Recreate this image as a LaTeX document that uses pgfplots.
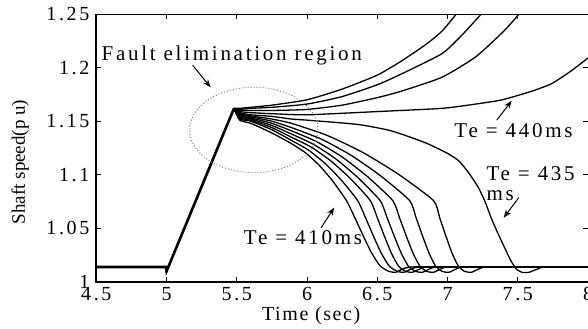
\documentclass[border=0pt]{standalone}
\usepackage{fontspec}
\setmainfont{Liberation Serif}[LetterSpace=13]
\newfontfamily\ylabfont{Liberation Serif}
\newfontfamily\xlabfont{Liberation Serif}[LetterSpace=8]
\usepackage{pgfplots}
\pgfplotsset{compat=1.18}
\usetikzlibrary{arrows.meta}
\begin{document}
\begin{tikzpicture}[curve/.style={black, solid, line width=0.65pt, smooth, tension=0.35, mark=none}]
\begin{axis}[
  width=245bp, height=133.5bp, scale only axis,
  xmin=4.5, xmax=8, ymin=1, ymax=1.25,
  xtick={4.5,5,5.5,6,6.5,7,7.5,8},
  ytick={1,1.05,1.1,1.15,1.2,1.25},
  xticklabels={4.5,5,5.5,6,6.5,7,7.5,8},
  yticklabels={1,1.05,1.1,1.15,1.2,1.25},
  tick align=inside, major tick length=2.5pt,
  tick style={black, line width=0.5pt},
  axis line style={line width=0.5pt},
  /pgf/number format/assume math mode=true,
  tick label style={font=\fontsize{10}{12}\selectfont},
  xticklabel style={yshift=1pt},
  xlabel={\xlabfont Time (sec)},
  xlabel style={at={(axis description cs:0.437,-0.125)}, anchor=center, font=\fontsize{10}{12}\selectfont},
  ylabel={\ylabfont Shaft speed(p u)},
  ylabel style={at={(axis description cs:-0.155,0.448)}, anchor=center, font=\fontsize{9.5}{11}\selectfont},
  after end axis/.code={\draw[line width=1.1pt] (rel axis cs:0,1) -- (rel axis cs:0,0) -- (rel axis cs:1,0);},
]
% pre-fault and ramp
\addplot[black, solid, mark=none, sharp plot, line width=1.3pt] coordinates {(4.5,1.014)(4.995,1.014)(5.0,1.010)(5.48,1.162)};
% fast recovering curves
\addplot[curve] coordinates {(5.48,1.162)(5.52,1.151)(5.6,1.148)(5.75,1.139)(5.89,1.129)(5.9875,1.1207)(6.085,1.1091)(6.1825,1.0942)(6.28,1.076)(6.34,1.060)(6.40,1.043)(6.46,1.027)(6.52,1.015)(6.58,1.010)(6.63,1.009)(6.68,1.012)(6.74,1.014)(7.0,1.014)(8,1.014)};
\addplot[curve] coordinates {(5.48,1.162)(5.52,1.152)(5.6,1.150)(5.75,1.142)(5.89,1.132)(6.0075,1.1233)(6.125,1.111)(6.2425,1.0953)(6.36,1.076)(6.416,1.060)(6.472,1.043)(6.528,1.027)(6.584,1.015)(6.64,1.010)(6.69,1.009)(6.74,1.012)(6.80,1.014)(7.1,1.014)(8,1.014)};
\addplot[curve] coordinates {(5.48,1.162)(5.52,1.153)(5.6,1.151)(5.75,1.144)(5.89,1.135)(6.03,1.1258)(6.17,1.1129)(6.31,1.0963)(6.45,1.076)(6.50,1.060)(6.55,1.043)(6.60,1.027)(6.65,1.015)(6.70,1.010)(6.75,1.009)(6.80,1.012)(6.86,1.014)(7.2,1.014)(8,1.014)};
\addplot[curve] coordinates {(5.48,1.162)(5.52,1.154)(5.6,1.152)(5.75,1.146)(5.89,1.138)(6.0475,1.1283)(6.205,1.1148)(6.3625,1.0973)(6.52,1.076)(6.57,1.060)(6.62,1.043)(6.67,1.027)(6.72,1.015)(6.77,1.010)(6.82,1.009)(6.87,1.012)(6.93,1.014)(7.3,1.014)(8,1.014)};
\addplot[curve] coordinates {(5.48,1.162)(5.52,1.155)(5.6,1.153)(5.75,1.148)(5.89,1.141)(6.07,1.1308)(6.25,1.1166)(6.43,1.0983)(6.61,1.076)(6.658,1.060)(6.706,1.043)(6.754,1.027)(6.802,1.015)(6.85,1.010)(6.90,1.009)(6.95,1.012)(7.01,1.014)(7.4,1.014)(8,1.014)};
\addplot[curve] coordinates {(5.48,1.162)(5.52,1.156)(5.6,1.154)(5.75,1.150)(5.89,1.144)(6.10,1.1334)(6.31,1.1185)(6.52,1.0994)(6.73,1.076)(6.776,1.060)(6.822,1.043)(6.868,1.027)(6.914,1.015)(6.96,1.010)(7.01,1.009)(7.06,1.012)(7.12,1.014)(7.5,1.014)(8,1.014)};
\addplot[curve] coordinates {(5.48,1.162)(5.52,1.157)(5.6,1.155)(5.75,1.152)(5.89,1.148)(6.1425,1.1368)(6.395,1.121)(6.6475,1.1008)(6.90,1.076)(6.944,1.060)(6.988,1.043)(7.032,1.027)(7.076,1.015)(7.12,1.010)(7.17,1.009)(7.22,1.012)(7.28,1.014)(7.6,1.014)(8,1.014)};
% Te = 435 ms
\addplot[curve] coordinates {(5.48,1.162)(5.52,1.158)(5.6,1.156)(5.75,1.1545)(5.89,1.152)(6.0,1.151)(6.36,1.147)(6.6,1.141)(6.84,1.130)(7.0,1.120)(7.08,1.113)(7.15,1.102)(7.22,1.088)(7.27,1.074)(7.31,1.060)(7.36,1.045)(7.41,1.031)(7.45,1.020)(7.49,1.012)(7.53,1.009)(7.58,1.009)(7.64,1.012)(7.7,1.014)(8,1.014)};
% Te = 440 ms
\addplot[curve] coordinates {(5.48,1.162)(5.52,1.159)(5.6,1.158)(5.75,1.157)(6.0,1.156)(6.5,1.159)(6.96,1.162)(7.2,1.166)(7.39,1.170)(7.6,1.178)(7.74,1.185)(7.87,1.196)(8.0,1.209)};
% unstable curves
\addplot[curve] coordinates {(5.48,1.162)(5.52,1.160)(5.6,1.160)(5.75,1.160)(6.0,1.161)(6.25,1.165)(6.5,1.172)(6.67,1.178)(6.96,1.191)(7.2,1.210)(7.4,1.234)(7.51,1.25)(7.58,1.26)};
\addplot[curve] coordinates {(5.48,1.162)(5.52,1.161)(5.6,1.162)(5.75,1.163)(6.0,1.166)(6.25,1.173)(6.5,1.184)(6.67,1.194)(6.96,1.213)(7.1,1.230)(7.24,1.25)(7.3,1.259)};
\addplot[curve] coordinates {(5.48,1.162)(5.52,1.162)(5.6,1.163)(5.75,1.165)(6.0,1.170)(6.25,1.180)(6.5,1.193)(6.67,1.206)(6.85,1.222)(6.96,1.234)(7.05,1.248)(7.12,1.26)};
% annotations
\draw[gray, densely dotted, line width=0.5pt] (axis cs:5.621,1.1419) ellipse [x radius=0.457, y radius=0.0398];
\node[font=\fontsize{10.5}{10.5}\selectfont, inner sep=0pt] at (axis cs:5.464,1.2116) {Fault elimination region};
\draw[-{Stealth[length=4pt,width=3pt]}, line width=0.5pt] (axis cs:5.186,1.2022) -- (axis cs:5.314,1.1816);
\node[font=\fontsize{10.5}{10.5}\selectfont, inner sep=0pt] at (axis cs:7.47,1.141) {Te = 440ms};
\draw[-{Stealth[length=4pt,width=3pt]}, line width=0.5pt] (axis cs:7.35,1.151) -- (axis cs:7.457,1.169);
\node[font=\fontsize{10.5}{10}\selectfont, inner sep=0pt, anchor=west, align=left] at (axis cs:7.275,1.0918) {Te = 435\\ms};
\draw[-{Stealth[length=4pt,width=3pt]}, line width=0.5pt] (axis cs:7.507,1.0787) -- (axis cs:7.40,1.060);
\node[font=\fontsize{10.5}{10.5}\selectfont, inner sep=0pt] at (axis cs:5.971,1.0412) {Te = 410ms};
\draw[-{Stealth[length=4pt,width=3pt]}, line width=0.5pt] (axis cs:6.10,1.0506) -- (axis cs:6.193,1.0693);
\end{axis}
\pgfresetboundingbox
\path ([xshift=-48bp,yshift=-23bp]current axis.south west) rectangle ([yshift=7bp]current axis.north east);
\end{tikzpicture}
\end{document}
